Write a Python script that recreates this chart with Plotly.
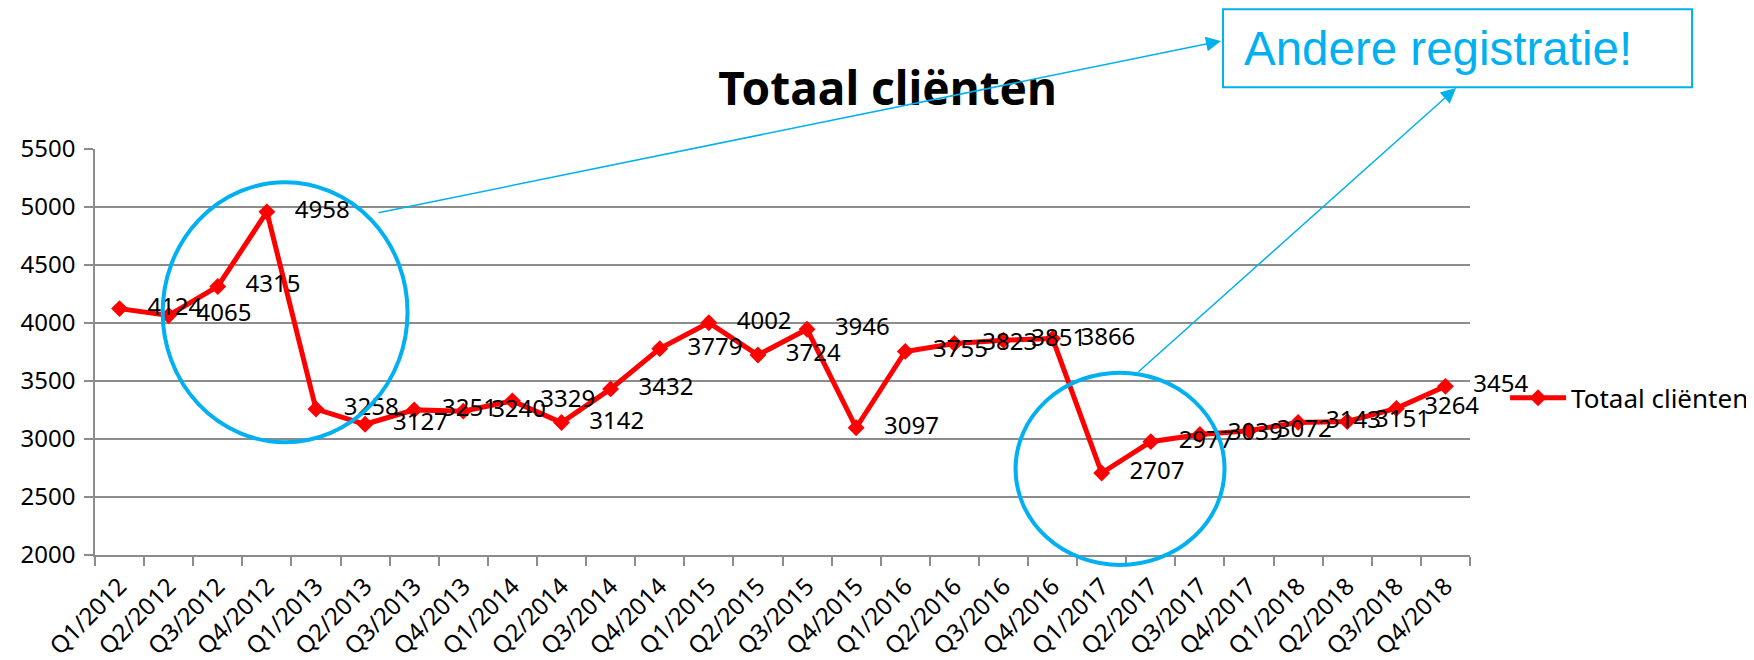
import plotly.graph_objects as go

categories = ["Q1/2012", "Q2/2012", "Q3/2012", "Q4/2012",
              "Q1/2013", "Q2/2013", "Q3/2013", "Q4/2013",
              "Q1/2014", "Q2/2014", "Q3/2014", "Q4/2014",
              "Q1/2015", "Q2/2015", "Q3/2015", "Q4/2015",
              "Q1/2016", "Q2/2016", "Q3/2016", "Q4/2016",
              "Q1/2017", "Q2/2017", "Q3/2017", "Q4/2017",
              "Q1/2018", "Q2/2018", "Q3/2018", "Q4/2018"]
totaal_clienten = [4124, 4065, 4315, 4958,
                   3258, 3127, 3251, 3240,
                   3329, 3142, 3432, 3779,
                   4002, 3724, 3946, 3097,
                   3755, 3823, 3851, 3866,
                   2707, 2977, 3039, 3072,
                   3143, 3151, 3264, 3454]
y_ticks = [2000, 2500, 3000, 3500, 4000, 4500, 5000, 5500]

BLUE = "#00B0F0"
GRID = "#8C8C8C"
FONT = "Noto Sans"

fig = go.Figure()
fig.add_trace(go.Scatter(
    x=categories, y=totaal_clienten, name="Totaal cliënten",
    mode="lines+markers+text",
    line=dict(color="#FF0000", width=5),
    marker=dict(symbol="diamond", size=13, color="#FF0000"),
    texttemplate="\u00a0\u00a0\u00a0%{y}", textposition="middle right",
    textfont=dict(family=FONT, size=24, color="black"),
    cliponaxis=False,
))

# the page places the figure 8px from the top-left corner
fig.update_layout(
    width=1746, height=652,
    margin=dict(l=87, r=284, t=141, b=105, autoexpand=False),
    paper_bgcolor="white", plot_bgcolor="white",
    title=dict(text="<b>Totaal cliënten</b>", x=0.5038, y=0.876,
               xanchor="center", yanchor="middle", xref="container", yref="container",
               font=dict(family=FONT, size=46, color="black")),
    showlegend=True,
    legend=dict(x=1.0255, y=0.387, xanchor="left", yanchor="middle",
                font=dict(family=FONT, size=26, color="black"),
                itemwidth=56, bgcolor="rgba(0,0,0,0)"),
    xaxis=dict(type="category", range=[-0.5, 27.5], tickson="boundaries",
               ticks="outside", ticklen=9, tickcolor=GRID, tickwidth=1.5,
               showline=True, linecolor=GRID, linewidth=1.5,
               showgrid=False, tickangle=-45, ticklabelstandoff=6,
               tickfont=dict(family=FONT, size=24, color="black")),
    yaxis=dict(range=[2000, 5500], tickvals=y_ticks, ticks="outside", ticklen=9,
               tickcolor=GRID, tickwidth=1.5, showline=True, linecolor=GRID,
               linewidth=1.5, showgrid=True, gridcolor=GRID, gridwidth=1.5,
               zeroline=False, ticklabelstandoff=4,
               tickfont=dict(family=FONT, size=24, color="black")),
)

# highlight ellipses
fig.add_shape(type="circle", xref="paper", yref="paper",
              x0=0.0492, x1=0.2273, y0=0.2776, y1=0.918,
              line=dict(color=BLUE, width=4))
fig.add_shape(type="circle", xref="paper", yref="paper",
              x0=0.6695, x1=0.8215, y0=-0.0246, y1=0.449,
              line=dict(color=BLUE, width=4))
# text box
fig.add_shape(type="rect", xref="paper", yref="paper",
              x0=0.8204, x1=1.1615, y0=1.152, y1=1.344,
              line=dict(color=BLUE, width=2))
fig.add_annotation(text="Andere registratie!", xref="paper", yref="paper",
                   x=0.8342, y=1.247, xanchor="left", yanchor="middle",
                   showarrow=False,
                   font=dict(family="Liberation Sans", size=47.5, color=BLUE))
# arrows
fig.add_annotation(text="", xref="paper", yref="paper", x=0.8189, y=1.266,
                   ax=-844, ay=172, showarrow=True, arrowhead=2, arrowsize=2,
                   arrowwidth=1.5, arrowcolor=BLUE)
fig.add_annotation(text="", xref="paper", yref="paper", x=0.9898, y=1.150,
                   ax=-319, ay=285, showarrow=True, arrowhead=2, arrowsize=2,
                   arrowwidth=1.5, arrowcolor=BLUE)

fig.write_html("out.html")
